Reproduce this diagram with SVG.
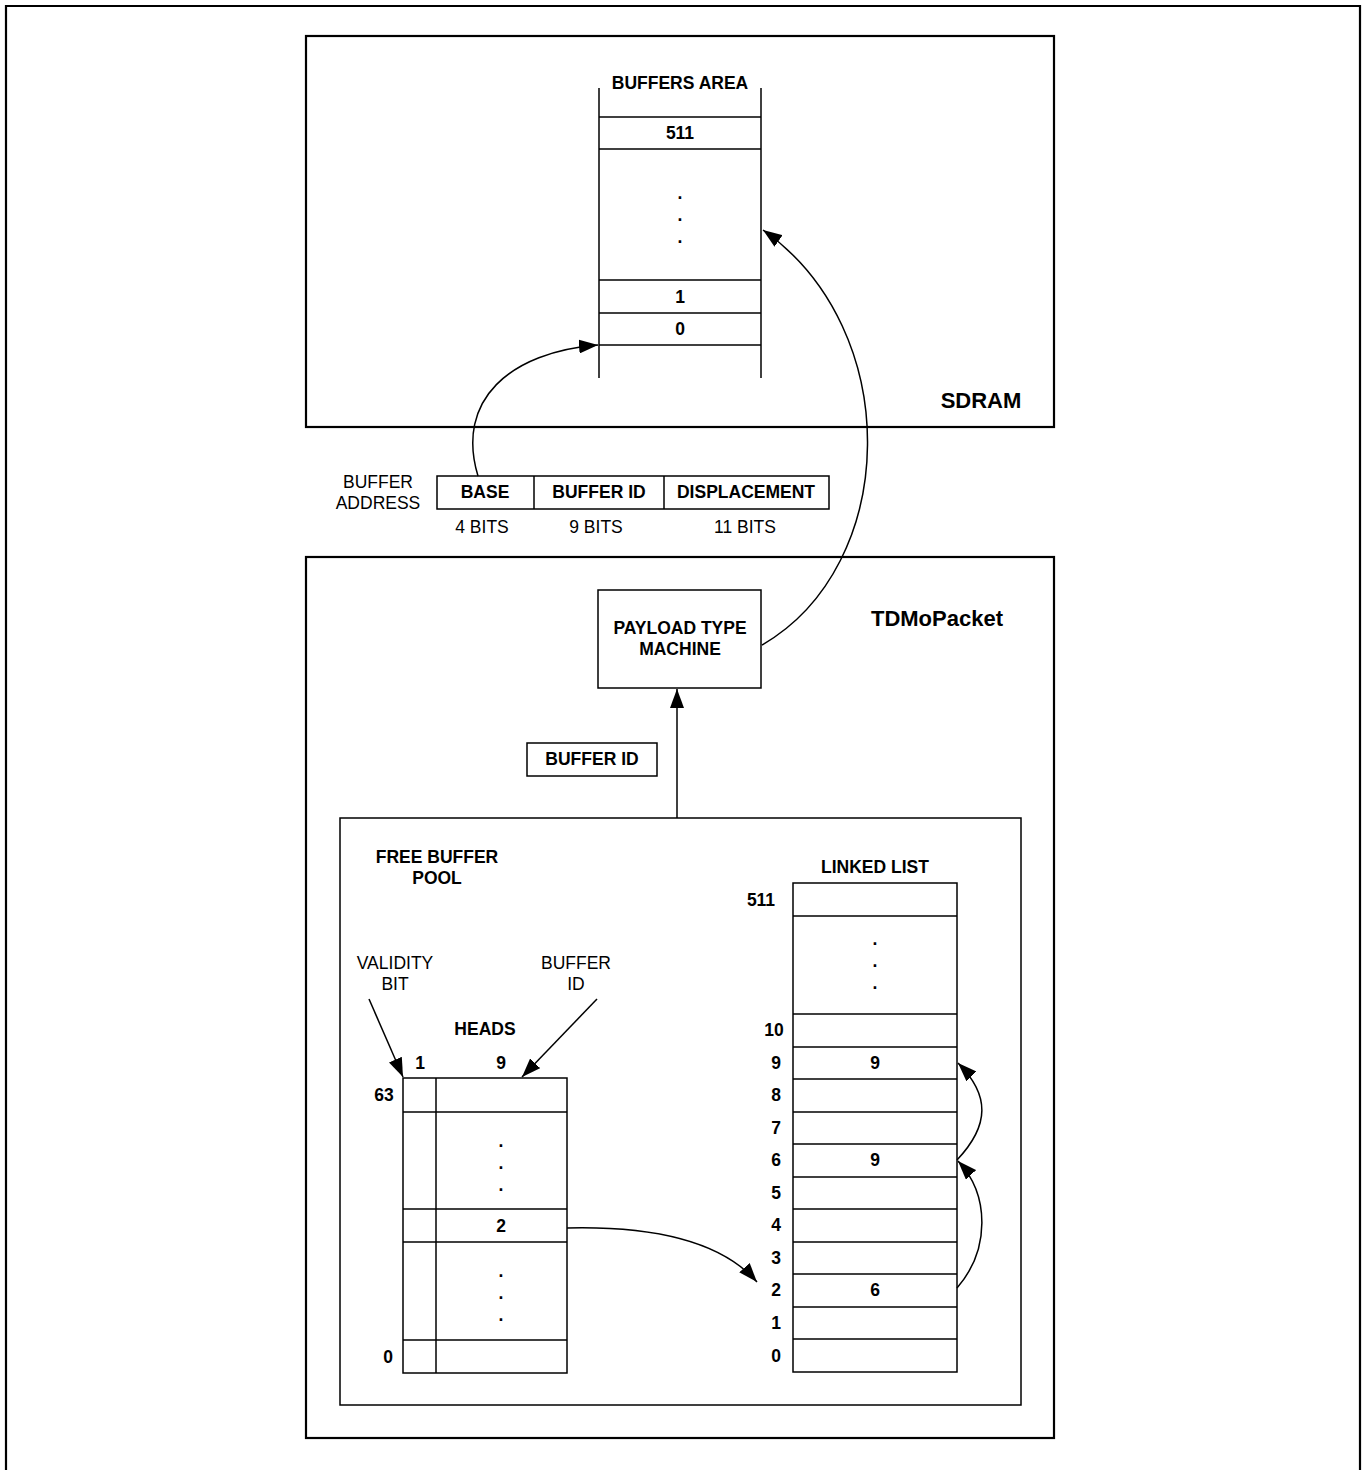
<svg xmlns="http://www.w3.org/2000/svg" width="1362" height="1470" viewBox="0 0 1362 1470">
<defs>
<style>
.t{font-family:"Liberation Sans",Arial,sans-serif;font-size:17.5px;fill:#000;text-anchor:middle}
.b{font-weight:bold}
.big{font-family:"Liberation Sans",Arial,sans-serif;font-size:22px;font-weight:bold;fill:#000;text-anchor:middle}
.box{fill:none;stroke:#000;stroke-width:2.2}
.ln{fill:none;stroke:#000;stroke-width:1.5}
.ar{fill:none;stroke:#000;stroke-width:1.5;marker-end:url(#ah)}
</style>
<marker id="ah" markerUnits="userSpaceOnUse" markerWidth="20" markerHeight="14" refX="19" refY="7" orient="auto">
<path d="M0,0 L19,7 L0,14 z" fill="#000"/>
</marker>
</defs>
<rect width="1362" height="1470" fill="#fff"/>
<path d="M6,1470 V6 H1360 V1470" fill="none" stroke="#000" stroke-width="2.2"/>

<g id="sdram">
<rect class="box" x="306" y="36" width="748" height="391"/>
<text class="big" x="981" y="408">SDRAM</text>
</g>

<g id="buffers-area">
<line class="ln" x1="599" y1="88" x2="599" y2="378"/>
<line class="ln" x1="761" y1="88" x2="761" y2="378"/>
<line class="ln" x1="599" y1="117" x2="761" y2="117"/>
<line class="ln" x1="599" y1="149" x2="761" y2="149"/>
<line class="ln" x1="599" y1="280" x2="761" y2="280"/>
<line class="ln" x1="599" y1="313" x2="761" y2="313"/>
<line class="ln" x1="599" y1="345" x2="761" y2="345"/>
<text class="t b" x="680" y="89">BUFFERS AREA</text>
<text class="t b" x="680" y="139">511</text>
<text class="t b" x="680" y="199">.</text>
<text class="t b" x="680" y="221">.</text>
<text class="t b" x="680" y="243">.</text>
<text class="t b" x="680" y="303">1</text>
<text class="t b" x="680" y="335">0</text>
</g>

<g id="buffer-address">
<text class="t" x="378" y="488">BUFFER</text>
<text class="t" x="378" y="509">ADDRESS</text>
<rect class="ln" x="437" y="476" width="392" height="33"/>
<line class="ln" x1="534" y1="476" x2="534" y2="509"/>
<line class="ln" x1="664" y1="476" x2="664" y2="509"/>
<text class="t b" x="485" y="498">BASE</text>
<text class="t b" x="599" y="498">BUFFER ID</text>
<text class="t b" x="746" y="498">DISPLACEMENT</text>
<text class="t" x="482" y="533">4 BITS</text>
<text class="t" x="596" y="533">9 BITS</text>
<text class="t" x="745" y="533">11 BITS</text>
</g>

<g id="tdmopacket">
<rect class="box" x="306" y="557" width="748" height="881"/>
<text class="big" x="937" y="626">TDMoPacket</text>
</g>

<g id="payload-type-machine">
<rect class="ln" x="598" y="590" width="163" height="98"/>
<text class="t b" x="680" y="634">PAYLOAD TYPE</text>
<text class="t b" x="680" y="655">MACHINE</text>
</g>

<g id="buffer-id-label">
<rect class="ln" x="527" y="743" width="130" height="33"/>
<text class="t b" x="592" y="765">BUFFER ID</text>
</g>

<g id="free-buffer-pool">
<rect class="ln" x="340" y="818" width="681" height="587"/>
<text class="t b" x="437" y="863">FREE BUFFER</text>
<text class="t b" x="437" y="884">POOL</text>
<text class="t" x="395" y="969">VALIDITY</text>
<text class="t" x="395" y="990">BIT</text>
<text class="t" x="576" y="969">BUFFER</text>
<text class="t" x="576" y="990">ID</text>
</g>

<g id="heads">
<text class="t b" x="485" y="1035">HEADS</text>
<text class="t b" x="420" y="1069">1</text>
<text class="t b" x="501" y="1069">9</text>
<rect class="ln" x="403" y="1078" width="164" height="295"/>
<line class="ln" x1="436" y1="1078" x2="436" y2="1373"/>
<line class="ln" x1="403" y1="1112" x2="567" y2="1112"/>
<line class="ln" x1="403" y1="1209" x2="567" y2="1209"/>
<line class="ln" x1="403" y1="1242" x2="567" y2="1242"/>
<line class="ln" x1="403" y1="1340" x2="567" y2="1340"/>
<text class="t b" x="384" y="1101">63</text>
<text class="t b" x="388" y="1363">0</text>
<text class="t b" x="501" y="1147">.</text>
<text class="t b" x="501" y="1169">.</text>
<text class="t b" x="501" y="1191">.</text>
<text class="t b" x="501" y="1232">2</text>
<text class="t b" x="501" y="1277">.</text>
<text class="t b" x="501" y="1299">.</text>
<text class="t b" x="501" y="1321">.</text>
</g>

<g id="linked-list">
<text class="t b" x="875" y="873">LINKED LIST</text>
<rect class="ln" x="793" y="883" width="164" height="489"/>
<line class="ln" x1="793" y1="916" x2="957" y2="916"/>
<line class="ln" x1="793" y1="1014" x2="957" y2="1014"/>
<line class="ln" x1="793" y1="1047" x2="957" y2="1047"/>
<line class="ln" x1="793" y1="1079" x2="957" y2="1079"/>
<line class="ln" x1="793" y1="1112" x2="957" y2="1112"/>
<line class="ln" x1="793" y1="1144" x2="957" y2="1144"/>
<line class="ln" x1="793" y1="1177" x2="957" y2="1177"/>
<line class="ln" x1="793" y1="1209" x2="957" y2="1209"/>
<line class="ln" x1="793" y1="1242" x2="957" y2="1242"/>
<line class="ln" x1="793" y1="1274" x2="957" y2="1274"/>
<line class="ln" x1="793" y1="1307" x2="957" y2="1307"/>
<line class="ln" x1="793" y1="1339" x2="957" y2="1339"/>
<text class="t b" x="761" y="906">511</text>
<text class="t b" x="875" y="945">.</text>
<text class="t b" x="875" y="967">.</text>
<text class="t b" x="875" y="989">.</text>
<text class="t b" x="774" y="1036">10</text>
<text class="t b" x="776" y="1069">9</text>
<text class="t b" x="776" y="1101">8</text>
<text class="t b" x="776" y="1134">7</text>
<text class="t b" x="776" y="1166">6</text>
<text class="t b" x="776" y="1199">5</text>
<text class="t b" x="776" y="1231">4</text>
<text class="t b" x="776" y="1264">3</text>
<text class="t b" x="776" y="1296">2</text>
<text class="t b" x="776" y="1329">1</text>
<text class="t b" x="776" y="1362">0</text>
<text class="t b" x="875" y="1069">9</text>
<text class="t b" x="875" y="1166">9</text>
<text class="t b" x="875" y="1296">6</text>
</g>

<g id="connectors">
<path class="ar" d="M478,476 C455,400 510,352 598,345"/>
<path class="ar" d="M762,645 C900,565 905,330 763,230"/>
<path class="ar" d="M677,818 V689"/>
<path class="ar" d="M369,999 L403,1077"/>
<path class="ar" d="M597,999 L522,1077"/>
<path class="ar" d="M567,1228 C650,1226 720,1240 757,1282"/>
<path class="ar" d="M957,1288 C990,1250 990,1195 958,1161"/>
<path class="ar" d="M957,1160 C990,1125 990,1095 958,1063"/>
</g>
</svg>
